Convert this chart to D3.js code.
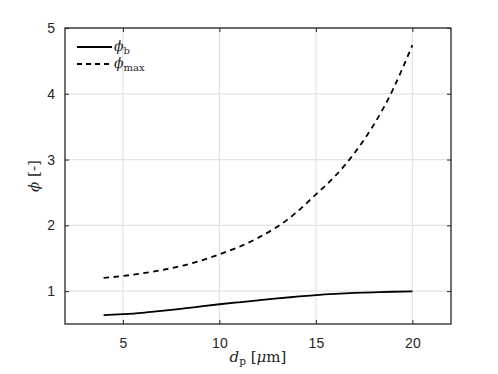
<!DOCTYPE html>
<html>
<head>
<meta charset="utf-8">
<script src="https://cdn.jsdelivr.net/npm/d3@7"></script>
<style>
    body { margin: 0; background: #fff; }
    .tick text { font-family: "Liberation Sans", Arial, sans-serif; font-size: 14px; fill: #262626; }
    .math { font-family: "DejaVu Serif", "Liberation Serif", serif; fill: #262626; }
</style>
</head>
<body>
<div id="chart"></div>
<script>
(function(d3) {
    'use strict';

    // Particle diameter [um]
    var dp = [4, 5, 6, 7, 8, 9, 10, 11, 12, 13, 14, 15, 16, 17, 18, 19, 20];

    // phi_b and phi_max
    var phiB = [0.635, 0.65, 0.67, 0.70, 0.73, 0.765, 0.80, 0.83, 0.86, 0.89, 0.915, 0.94, 0.958, 0.972, 0.982, 0.99, 0.995];
    var phiMax = [1.20, 1.23, 1.27, 1.32, 1.38, 1.46, 1.56, 1.67, 1.81, 1.98, 2.20, 2.47, 2.75, 3.10, 3.53, 4.07, 4.74];

    var xTicks = [5, 10, 15, 20],
        yTicks = [1, 2, 3, 4, 5];

    var width = 498,
        height = 374;
    var margin = {top: 28, right: 47, bottom: 50, left: 65};
    var innerWidth = width - margin.left - margin.right,
        innerHeight = height - margin.top - margin.bottom;

    var svg = d3.select('#chart').append('svg')
        .attr('width', width)
        .attr('height', height);

    var chart = svg.append('g')
        .attr('transform', 'translate(' + margin.left + ',' + margin.top + ')');

    var x = d3.scaleLinear().domain([2, 22]).range([0, innerWidth]);
    var y = d3.scaleLinear().domain([0.5, 5]).range([innerHeight, 0]);

    // Grid
    chart.append('g').selectAll('line')
        .data(xTicks)
        .enter().append('line')
        .attr('x1', function(d) { return x(d); })
        .attr('x2', function(d) { return x(d); })
        .attr('y1', 0)
        .attr('y2', innerHeight)
        .attr('stroke', '#e3e3e3')
        .attr('stroke-width', 1.2);

    chart.append('g').selectAll('line')
        .data(yTicks)
        .enter().append('line')
        .attr('x1', 0)
        .attr('x2', innerWidth)
        .attr('y1', function(d) { return y(d); })
        .attr('y2', function(d) { return y(d); })
        .attr('stroke', '#e3e3e3')
        .attr('stroke-width', 1.2);

    // Axes, ticks pointing inwards, on all four sides
    function styleAxis(g) {
        g.select('.domain').remove();
        g.selectAll('.tick line').attr('stroke', '#262626').attr('stroke-width', 1);
    }

    chart.append('g')
        .attr('transform', 'translate(0,' + innerHeight + ')')
        .call(d3.axisBottom(x).tickValues(xTicks).tickSizeInner(-4).tickSizeOuter(0).tickPadding(14))
        .call(styleAxis);

    chart.append('g')
        .call(d3.axisTop(x).tickValues(xTicks).tickSizeInner(-4).tickSizeOuter(0).tickFormat(''))
        .call(styleAxis);

    chart.append('g')
        .call(d3.axisLeft(y).tickValues(yTicks).tickFormat(d3.format('d')).tickSizeInner(-4).tickSizeOuter(0).tickPadding(10))
        .call(styleAxis);

    chart.append('g')
        .attr('transform', 'translate(' + innerWidth + ',0)')
        .call(d3.axisRight(y).tickValues(yTicks).tickSizeInner(-4).tickSizeOuter(0).tickFormat(''))
        .call(styleAxis);

    // Box
    chart.append('rect')
        .attr('width', innerWidth)
        .attr('height', innerHeight)
        .attr('fill', 'none')
        .attr('stroke', '#262626')
        .attr('stroke-width', 1.3);

    // Curves
    var line = d3.line()
        .x(function(d) { return x(d[0]); })
        .y(function(d) { return y(d[1]); })
        .curve(d3.curveNatural);

    chart.append('path')
        .datum(d3.zip(dp, phiB))
        .attr('d', line)
        .attr('fill', 'none')
        .attr('stroke', '#000')
        .attr('stroke-width', 1.8);

    chart.append('path')
        .datum(d3.zip(dp, phiMax))
        .attr('d', line)
        .attr('fill', 'none')
        .attr('stroke', '#000')
        .attr('stroke-width', 1.8)
        .attr('stroke-dasharray', '5.5,4.5');

    // Legend
    var legend = chart.append('g')
        .attr('transform', 'translate(12,19)');

    var entries = [{sub: 'b', dash: null}, {sub: 'max', dash: '5,4'}];
    entries.forEach(function(e, i) {
        var row = legend.append('g').attr('transform', 'translate(0,' + (i * 17) + ')');
        row.append('line')
            .attr('x1', 0).attr('x2', 35)
            .attr('stroke', '#000')
            .attr('stroke-width', 1.8)
            .attr('stroke-dasharray', e.dash);
        var t = row.append('text')
            .attr('class', 'math')
            .attr('x', 37)
            .attr('y', 4)
            .attr('font-size', 14);
        t.append('tspan').attr('font-style', 'italic').text('ϕ');
        t.append('tspan').attr('font-size', 10).attr('dy', 3).text(e.sub);
    });

    // Axis labels
    var xl = svg.append('text')
        .attr('class', 'math')
        .attr('x', margin.left + innerWidth / 2)
        .attr('y', 362)
        .attr('text-anchor', 'middle')
        .attr('font-size', 15);
    xl.append('tspan').attr('font-style', 'italic').text('d');
    xl.append('tspan').attr('font-size', 10.5).attr('dy', 3).text('p');
    xl.append('tspan').attr('dy', -3).text(' [');
    xl.append('tspan').attr('font-style', 'italic').text('μ');
    xl.append('tspan').text('m]');

    var yl = svg.append('text')
        .attr('class', 'math')
        .attr('transform', 'translate(39,' + (margin.top + innerHeight / 2) + ') rotate(-90)')
        .attr('text-anchor', 'middle')
        .attr('font-size', 15);
    yl.append('tspan').attr('font-style', 'italic').text('ϕ');
    yl.append('tspan').text(' [-]');
}(d3));
</script>
</body>
</html>
